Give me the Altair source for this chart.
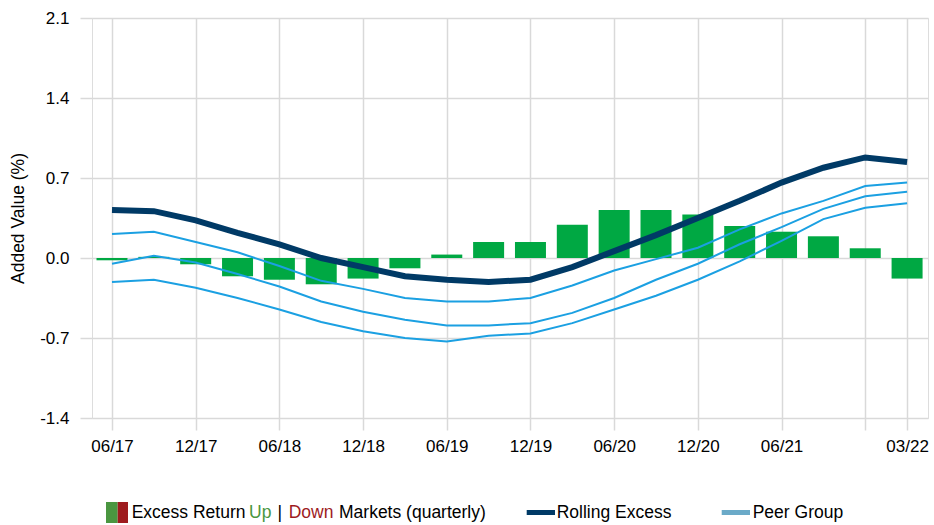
import altair as alt
import pandas as pd

quarters = ["06/17", "09/17", "12/17", "03/18", "06/18", "09/18", "12/18", "03/19",
            "06/19", "09/19", "12/19", "03/20", "06/20", "09/20", "12/20", "03/21",
            "06/21", "09/21", "12/21", "03/22"]
excess = [-0.02, 0.01, -0.055, -0.16, -0.19, -0.23, -0.18, -0.09, 0.03, 0.14,
          0.14, 0.29, 0.42, 0.42, 0.38, 0.28, 0.23, 0.19, 0.085, -0.18]
rolling = [0.42, 0.41, 0.33, 0.22, 0.12, 0.00, -0.08, -0.16, -0.19, -0.21,
           -0.19, -0.08, 0.06, 0.20, 0.35, 0.50, 0.66, 0.79, 0.88, 0.84]
peer_high = [0.21, 0.23, 0.14, 0.05, -0.07, -0.20, -0.27, -0.35, -0.38, -0.38,
             -0.35, -0.24, -0.11, -0.01, 0.09, 0.25, 0.39, 0.50, 0.63, 0.66]
peer_mid = [-0.05, 0.02, -0.04, -0.14, -0.25, -0.38, -0.47, -0.54, -0.59, -0.59,
            -0.57, -0.48, -0.35, -0.19, -0.05, 0.12, 0.27, 0.43, 0.54, 0.58]
peer_low = [-0.21, -0.19, -0.26, -0.35, -0.45, -0.56, -0.64, -0.70, -0.73, -0.68,
            -0.66, -0.57, -0.45, -0.33, -0.19, -0.03, 0.15, 0.34, 0.44, 0.48]
y_ticks = [-1.4, -0.7, 0.0, 0.7, 1.4, 2.1]
x_tick_idx = [0, 2, 4, 6, 8, 10, 12, 14, 16, 18, 19]
x_tick_labels = ["06/17", "12/17", "06/18", "12/18", "06/19", "12/19", "06/20",
                 "12/20", "06/21", "", "03/22"]

FONT = "Liberation Sans, Arial, sans-serif"
FS = 17
GRID = "#D9D9D9"
GREEN_BAR = "#00A843"
NAVY = "#003A66"
PEER = "#1BA0E2"

idx = list(range(len(quarters)))
bars_df = pd.DataFrame({"i": idx, "q": quarters, "v": excess})
roll_df = pd.DataFrame({"i": idx, "v": rolling})
peer_df = pd.DataFrame({
    "i": idx * 3,
    "v": peer_high + peer_mid + peer_low,
    "s": ["high"] * 20 + ["mid"] * 20 + ["low"] * 20,
})

label_map = "{" + ",".join(f"'{i}':'{l}'" for i, l in zip(x_tick_idx, x_tick_labels)) + "}"

x_scale = alt.Scale(domain=[-0.478, 19.5], nice=False, zero=False, padding=0)
y_scale = alt.Scale(domain=[-1.4, 2.1], nice=False)

x_axis = alt.Axis(values=x_tick_idx, labelExpr=f"{label_map}[''+datum.value]",
                  title=None, grid=True, gridColor=GRID, gridWidth=1.5,
                  tickSize=12, tickColor=GRID, tickWidth=1.5, domain=False,
                  labelFont=FONT, labelFontSize=FS, labelColor="#000000",
                  labelPadding=8)
y_axis = alt.Axis(values=y_ticks,
                  labelExpr="replace(format(datum.value, '.1f'), '\u2212', '-')",
                  title="Added Value (%)",
                  grid=True, gridColor=GRID, gridWidth=1.5,
                  tickSize=12, tickColor=GRID, tickWidth=1.5, domain=False,
                  labelFont=FONT, labelFontSize=FS, labelColor="#000000",
                  labelPadding=11, titleFont=FONT, titleFontSize=17.5,
                  titleFontWeight="normal", titleColor="#000000",
                  titleX=-74, titleY=200, titleAngle=-90,
                  titleAlign="center", titleBaseline="middle")

bars = alt.Chart(bars_df).mark_bar(size=31, color=GREEN_BAR).encode(
    x=alt.X("i:Q", scale=x_scale, axis=x_axis),
    y=alt.Y("v:Q", scale=y_scale, axis=y_axis),
)

peers = alt.Chart(peer_df).mark_line(color=PEER, strokeWidth=2).encode(
    x=alt.X("i:Q", scale=x_scale),
    y=alt.Y("v:Q", scale=y_scale),
    detail="s:N",
)

roll = alt.Chart(roll_df).mark_line(color=NAVY, strokeWidth=6).encode(
    x=alt.X("i:Q", scale=x_scale),
    y=alt.Y("v:Q", scale=y_scale),
)

# legend (drawn manually)
one = pd.DataFrame({"k": [0]})
sw_green = alt.Chart(one).mark_rect(color="#4A9640").encode(
    x=alt.value(14), x2=alt.value(25.7), y=alt.value(484), y2=alt.value(505))
sw_red = alt.Chart(one).mark_rect(color="#9E1B1E").encode(
    x=alt.value(25.7), x2=alt.value(36), y=alt.value(484), y2=alt.value(505))
sw_roll = alt.Chart(one).mark_rule(color=NAVY, strokeWidth=5).encode(
    x=alt.value(434.7), x2=alt.value(463), y=alt.value(494.5))
sw_peer = alt.Chart(one).mark_rule(color="#6BAAC8", strokeWidth=5).encode(
    x=alt.value(629.7), x2=alt.value(658), y=alt.value(494.5))

legend_items = [
    ("Excess Return", 39.7, "#000000"),
    ("Up", 157.0, "#4A9640"),
    ("|", 185.5, "#000000"),
    ("Down", 196.7, "#9E1B1E"),
    ("Markets (quarterly)", 247.0, "#000000"),
    ("Rolling Excess", 464.7, "#000000"),
    ("Peer Group", 660.7, "#000000"),
]
texts = []
for t, xp, c in legend_items:
    texts.append(
        alt.Chart(pd.DataFrame({"t": [t]})).mark_text(
            align="left", baseline="middle", font=FONT, fontSize=17.5, color=c
        ).encode(x=alt.value(xp), y=alt.value(495.3), text="t:N")
    )

chart = alt.layer(bars, peers, roll, sw_green, sw_red, sw_roll, sw_peer, *texts).properties(
    width=836, height=400,
    autosize=alt.AutoSizeParams(type="none"),
    padding={"left": 92, "top": 18, "right": 6, "bottom": 107},
).configure_view(stroke=GRID, strokeWidth=1.5).configure(background="#FFFFFF")

chart.save("out.html", embed_options={"renderer": "svg", "actions": False})
